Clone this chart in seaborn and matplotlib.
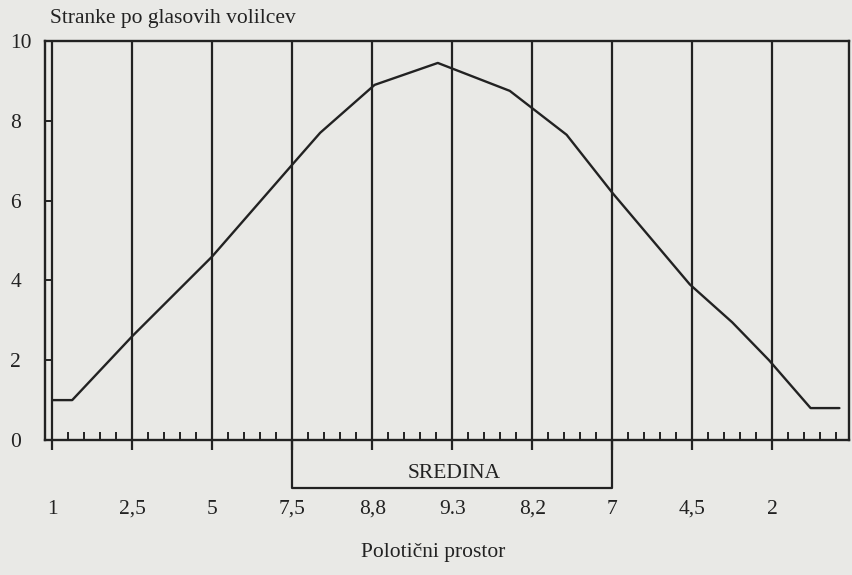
import numpy as np
import pandas as pd
import matplotlib
matplotlib.use("Agg")
import matplotlib.pyplot as plt
import seaborn as sns

# ---- data ----
position_labels = ["1", "2,5", "5", "7,5", "8,8", "9.3", "8,2", "7", "4,5", "2"]
curve_x = [0, 0.25, 1.0, 2.0, 3.0, 3.35, 4.03, 4.82, 5.72, 6.43, 7.0, 7.97, 8.5, 8.96, 9.48, 9.84]
curve_y = [1.0, 1.0, 2.6, 4.6, 6.9, 7.7, 8.9, 9.45, 8.75, 7.65, 6.2, 3.9, 2.95, 2.0, 0.8, 0.8]
y_ticks = [0, 2, 4, 6, 8, 10]
centre_start, centre_end = 3, 7
centre_label = "SREDINA"
title_text = "Stranke po glasovih volilcev"
xlabel_text = "Polotični prostor"

sns.set_style("white")
plt.rcParams["font.family"] = ["Liberation Serif", "DejaVu Serif"]

INK = "#222222"
BG = "#e9e9e6"
FS = 15.5
W, H = 852, 575
fig = plt.figure(figsize=(W / 100, H / 100), dpi=100, facecolor=BG)
ax = fig.add_axes([45 / W, 1 - 440 / H, (849 - 45) / W, (440 - 41) / H])
ax.set_facecolor(BG)

df = pd.DataFrame({"x": curve_x, "y": curve_y})
sns.lineplot(data=df, x="x", y="y", sort=False, color=INK, linewidth=1.7, ax=ax)

ax.set_xlim(-0.09, 9.96)
ax.set_ylim(0, 10)

# vertical division lines
n = len(position_labels)
ax.vlines(range(n), 0, 10, color=INK, linewidth=1.6)
# centre box extending below the axis
ax.plot([centre_start, centre_start, centre_end, centre_end], [0, -1.2, -1.2, 0],
        color=INK, linewidth=1.6, clip_on=False)
ax.text((centre_start + centre_end) / 2 + 0.03, -0.83, centre_label, ha="center", va="center",
        fontsize=FS, color=INK)

# ticks
ax.set_xticks(range(n))
ax.set_xticklabels(position_labels, fontsize=FS, color=INK)
minor = [i + 0.2 * k for i in range(n) for k in range(1, 5)]
ax.set_xticks(minor, minor=True)
ax.tick_params(axis="x", which="major", direction="out", length=7, width=1.6, color=INK,
               pad=36, bottom=True)
ax.tick_params(axis="x", which="minor", direction="in", length=6, width=1.4, color=INK, bottom=True)
ax.set_yticks(y_ticks)
ax.set_yticklabels([str(v) for v in y_ticks], fontsize=FS, color=INK)
ax.tick_params(axis="y", which="major", direction="in", length=5, width=1.4, color=INK, pad=25,
               left=True)
for lab in ax.get_yticklabels():
    lab.set_horizontalalignment("left")

for s in ax.spines.values():
    s.set_visible(True)
    s.set_color(INK)
    s.set_linewidth(1.7)

ax.set_xlabel("")
ax.set_ylabel("")

fig.text(50 / W, 1 - 19 / H, title_text, ha="left", va="center", fontsize=FS, color=INK)
fig.text(433 / W, 1 - 553 / H, xlabel_text, ha="center", va="center", fontsize=FS, color=INK)

fig.savefig("out.png", dpi=100, facecolor=BG)
